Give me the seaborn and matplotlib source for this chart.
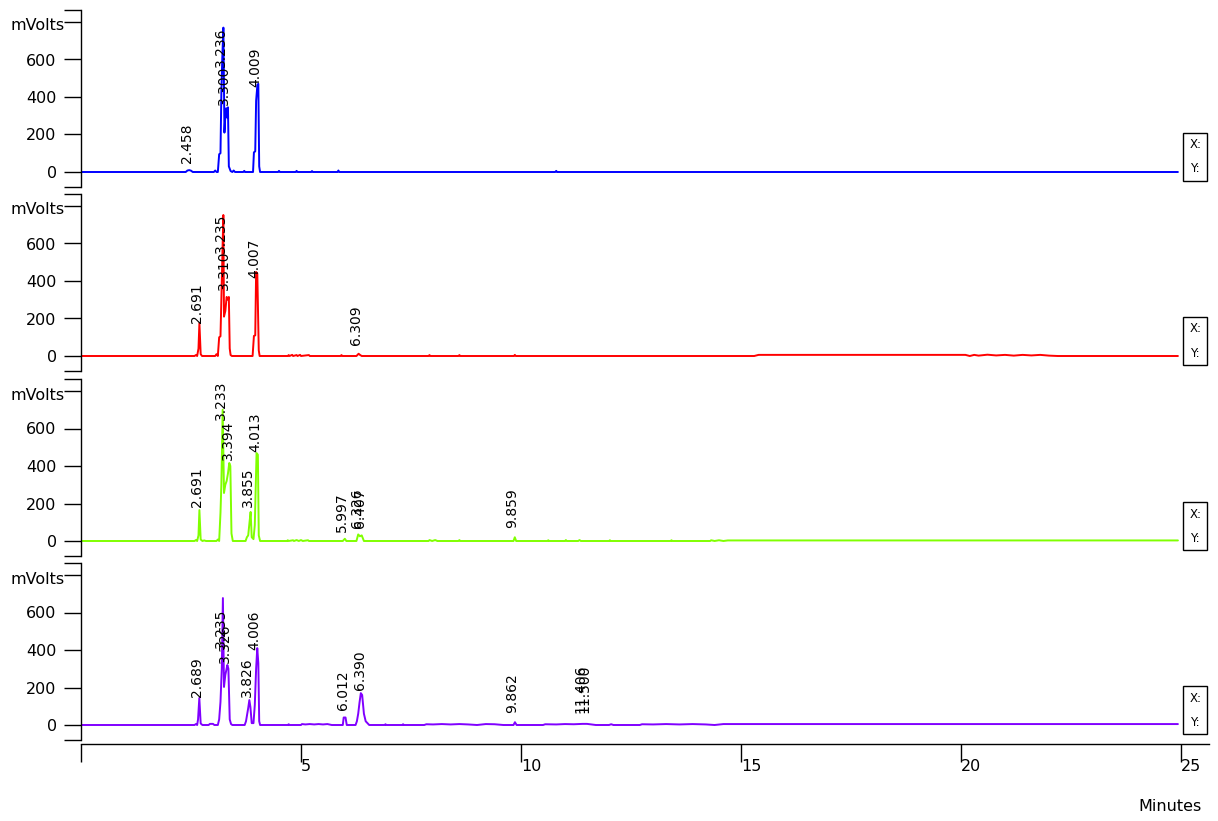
import pandas as pd
import seaborn as sns
import matplotlib.pyplot as plt
from matplotlib.transforms import ScaledTranslation
from matplotlib.patches import Rectangle

# Chromatogram traces (time in minutes, signal in mV)
blue_min = [0.00, 2.38, 2.42, 2.46, 2.50, 2.54,
            3.02, 3.05, 3.08, 3.11, 3.14, 3.17, 3.19, 3.21, 3.236, 3.26, 3.28, 3.30, 3.32, 3.34, 3.36, 3.40,
            3.44, 3.47, 3.50, 3.69, 3.71, 3.73,
            3.91, 3.93, 3.96, 3.98, 4.009, 4.03, 4.05, 4.07,
            4.48, 4.50, 4.52, 4.88, 4.90, 4.92, 5.23, 5.25, 5.27, 5.83, 5.85, 5.87,
            10.78, 10.80, 10.82, 24.93]
blue_mv = [0, 0, 8, 10, 7, 0,
           0, 8, 0, 0, 95, 100, 420, 600, 770, 210, 300, 340, 290, 345, 30, 5,
           0, 8, 0, 0, 6, 0,
           0, 105, 110, 380, 464, 470, 30, 0,
           0, 6, 0, 0, 6, 0, 0, 5, 0, 0, 8, 0,
           0, 6, 0, 0]

red_min = [0.00, 2.58, 2.61, 2.64, 2.67, 2.691, 2.72, 2.75,
           3.05, 3.08, 3.11, 3.14, 3.17, 3.19, 3.21, 3.235, 3.25, 3.28, 3.31, 3.34, 3.36, 3.38, 3.40, 3.43,
           3.90, 3.93, 3.96, 3.98, 4.007, 4.04, 4.06,
           4.70, 4.72, 4.74, 4.80, 4.82, 4.90, 4.92, 4.98, 5.00, 5.18, 5.20,
           5.90, 5.92, 5.94, 6.26, 6.309, 6.34, 6.38,
           7.90, 7.92, 7.94, 8.58, 8.60, 8.62, 9.84, 9.86, 9.88,
           15.30, 15.40, 20.10, 20.20, 20.30, 20.40, 20.60, 20.80, 21.00, 21.20, 21.40, 21.60, 21.80, 22.00,
           22.20, 24.93]
red_mv = [0, 0, 5, 0, 40, 176, 10, 0,
          0, 10, 0, 100, 105, 300, 500, 752, 210, 240, 315, 300, 315, 40, 5, 0,
          0, 107, 110, 448, 440, 30, 0,
          0, 5, 0, 6, 0, 5, 0, 6, 0, 5, 0,
          0, 5, 0, 0, 12, 6, 0,
          0, 5, 0, 0, 5, 0, 0, 6, 0,
          0, 6, 6, 0, 6, 2, 7, 3, 6, 2, 6, 3, 6, 2,
          0, 0]

green_min = [0.00, 2.58, 2.61, 2.64, 2.67, 2.691, 2.72, 2.76, 2.80, 2.84,
             3.08, 3.11, 3.14, 3.17, 3.19, 3.22, 3.25, 3.28, 3.31, 3.34, 3.37, 3.394, 3.42, 3.45,
             3.74, 3.77, 3.80, 3.83, 3.855, 3.88, 3.92, 3.95, 3.99, 4.02, 4.04, 4.07,
             4.68, 4.70, 4.72, 4.82, 4.84, 4.90, 4.95, 5.00, 5.04, 5.16, 5.18,
             5.95, 5.997, 6.03, 6.26, 6.30, 6.34, 6.38, 6.43,
             7.90, 7.92, 7.98, 8.05, 8.10, 8.58, 8.60, 8.62, 9.83, 9.859, 9.89,
             10.60, 10.62, 10.64, 11.00, 11.02, 11.04, 11.30, 11.33, 11.36, 12.00, 12.02, 12.04,
             13.40, 13.42, 13.44, 14.30, 14.32, 14.40, 14.50, 14.60, 14.70, 24.93]
green_mv = [0, 0, 5, 0, 30, 165, 8, 0, 3, 0,
            0, 8, 0, 150, 300, 700, 256, 300, 320, 360, 416, 400, 40, 0,
            0, 20, 30, 100, 155, 20, 10, 85, 469, 460, 30, 0,
            0, 4, 0, 4, 0, 5, 0, 5, 0, 4, 0,
            0, 12, 0, 0, 35, 25, 30, 0,
            0, 5, 0, 5, 0, 0, 5, 0, 0, 20, 0,
            0, 4, 0, 0, 5, 0, 0, 5, 0, 0, 4, 0,
            0, 4, 0, 0, 4, 0, 4, 0, 3, 3]

purple_min = [0.00, 2.58, 2.61, 2.64, 2.66, 2.689, 2.72, 2.76, 2.90, 2.93, 3.00, 3.03,
              3.11, 3.14, 3.17, 3.20, 3.225, 3.25, 3.28, 3.30, 3.326, 3.35, 3.38, 3.41, 3.44,
              3.72, 3.75, 3.80, 3.826, 3.85, 3.88, 3.92, 3.95, 3.98, 4.006, 4.03, 4.05, 4.07,
              4.70, 4.72, 4.74, 5.00, 5.02, 5.10, 5.20, 5.30, 5.40, 5.50, 5.60, 5.70,
              5.95, 5.97, 6.012, 6.04, 6.24, 6.27, 6.30, 6.33, 6.36, 6.39, 6.43, 6.47, 6.55,
              6.90, 6.92, 6.94, 7.30, 7.32, 7.34, 7.80, 7.85, 8.00, 8.20, 8.40, 8.60, 8.80, 9.00, 9.20, 9.40, 9.60,
              9.83, 9.862, 9.90, 10.50, 10.55, 10.80, 11.00, 11.20, 11.40, 11.50, 11.70, 12.00, 12.05, 12.10,
              12.70, 12.75, 13.00, 13.30, 13.60, 13.90, 14.20, 14.40, 14.60, 24.93]
purple_mv = [0, 0, 5, 0, 30, 144, 8, 0, 0, 6, 6, 0,
             0, 30, 123, 300, 677, 203, 267, 290, 320, 300, 30, 5, 0,
             0, 20, 90, 133, 96, 10, 10, 107, 300, 410, 330, 20, 0,
             0, 4, 0, 0, 5, 3, 5, 3, 5, 3, 5, 0,
             0, 40, 40, 0, 0, 20, 60, 120, 170, 160, 60, 20, 0,
             0, 4, 0, 0, 4, 0, 0, 4, 3, 5, 3, 5, 3, 0, 5, 4, 0,
             0, 15, 0, 0, 4, 3, 5, 4, 6, 6, 0, 0, 4, 0,
             0, 4, 3, 5, 3, 5, 3, 0, 5, 5]

# Peak labels (retention time text, mV where the label starts)
blue_labels = ['2.458', '3.236', '3.300', '4.009']
blue_label_mv = [48, 560, 357, 453]
red_labels = ['2.691', '3.235', '3.310', '4.007', '6.309']
red_label_mv = [176, 549, 352, 416, 59]
green_labels = ['2.691', '3.233', '3.394', '3.855', '4.013', '5.997', '6.326', '6.407', '9.859']
green_label_mv = [181, 645, 432, 181, 475, 48, 69, 69, 69]
purple_labels = ['2.689', '3.235', '3.326', '3.826', '4.006', '6.012', '6.390', '9.862', '11.406', '11.500']
purple_label_mv = [149, 411, 331, 149, 400, 80, 187, 64, 64, 64]

y_ticks = [0, 200, 400, 600, 800]
y_ticklabels = ['0', '200', '400', '600', '']
x_ticks = [0, 5, 10, 15, 20, 25]
x_ticklabels = ['', '5', '10', '15', '20', '25']

traces = [
    (blue_min, blue_mv, '#0000ff', blue_labels, blue_label_mv),
    (red_min, red_mv, '#ff0000', red_labels, red_label_mv),
    (green_min, green_mv, '#80ff00', green_labels, green_label_mv),
    (purple_min, purple_mv, '#8000ff', purple_labels, purple_label_mv),
]

sns.set_style('white')
plt.rcParams['font.family'] = ['DejaVu Sans']
plt.rcParams['axes.edgecolor'] = 'black'
plt.rcParams['xtick.color'] = 'black'
plt.rcParams['ytick.color'] = 'black'
plt.rcParams['text.color'] = 'black'

W, H = 1218, 821
fig = plt.figure(figsize=(W / 100, H / 100), dpi=100)

# layout in pixels
x0_px, px_per_min, xr_px = 81, 44.0, 1209
xmax = (xr_px - x0_px) / px_per_min
ymin, ymax = -80, 864
zero_px = [172, 356, 541, 725]
lab_shift = ScaledTranslation(-0.025, 0, fig.dpi_scale_trans)

for (t, v, col, labs, lab_mv), z in zip(traces, zero_px):
    top, bot = z - 162, z + 15
    ax = fig.add_axes([x0_px / W, 1 - bot / H, (xr_px - x0_px) / W, (bot - top) / H])
    ax.patch.set_alpha(0)
    df = pd.DataFrame({'Minutes': t, 'mVolts': v})
    sns.lineplot(data=df, x='Minutes', y='mVolts', ax=ax, color=col, lw=1.4,
                 estimator=None, sort=False)
    ax.set_xlim(0, xmax)
    ax.set_ylim(ymin, ymax)
    for s in ['top', 'right', 'bottom']:
        ax.spines[s].set_visible(False)
    ax.spines['left'].set_linewidth(1.0)
    ax.set_xticks([])
    ax.set_xlabel('')
    ax.set_ylabel('')
    ax.set_yticks(y_ticks)
    ax.set_yticklabels(y_ticklabels)
    ax.set_yticks([ymin, ymax], minor=True)
    ax.tick_params(axis='y', which='both', left=True, direction='out',
                   length=12.5, width=1.0, pad=5, labelsize=11.5)

    for s, yb in zip(labs, lab_mv):
        ax.text(float(s), yb, s, rotation=90, ha='center', va='bottom', fontsize=10,
                transform=ax.transData + lab_shift, clip_on=False)

    fig.text(10 / W, 1 - (z - 146) / H, 'mVolts', ha='left', va='center', fontsize=11.5)

    # the empty X:/Y: readout box at the right
    fig.add_artist(Rectangle((1183 / W, 1 - (z + 9) / H), 24 / W, 48 / H,
                             transform=fig.transFigure, facecolor='white',
                             edgecolor='black', lw=1.0))
    fig.text(1190 / W, 1 - (z - 27) / H, 'X:', ha='left', va='center', fontsize=8.5)
    fig.text(1190 / W, 1 - (z - 3) / H, 'Y:', ha='left', va='center', fontsize=8.5)

# shared time axis at the bottom
axx = fig.add_axes([x0_px / W, 1 - 744 / H, (xr_px - x0_px) / W, 5 / H])
axx.patch.set_alpha(0)
axx.set_xlim(0, xmax)
axx.set_yticks([])
for s in ['top', 'right', 'left']:
    axx.spines[s].set_visible(False)
axx.spines['bottom'].set_linewidth(1.0)
axx.set_xticks(x_ticks)
axx.set_xticklabels(x_ticklabels)
axx.tick_params(axis='x', bottom=True, direction='out', length=13, width=1.0,
                pad=-2.2, labelsize=11.5)
for lab in axx.get_xticklabels():
    lab.set_horizontalalignment('left')

fig.text(1170 / W, 1 - 806 / H, 'Minutes', ha='center', va='center', fontsize=11.5)

fig.savefig('out.png', dpi=100)
